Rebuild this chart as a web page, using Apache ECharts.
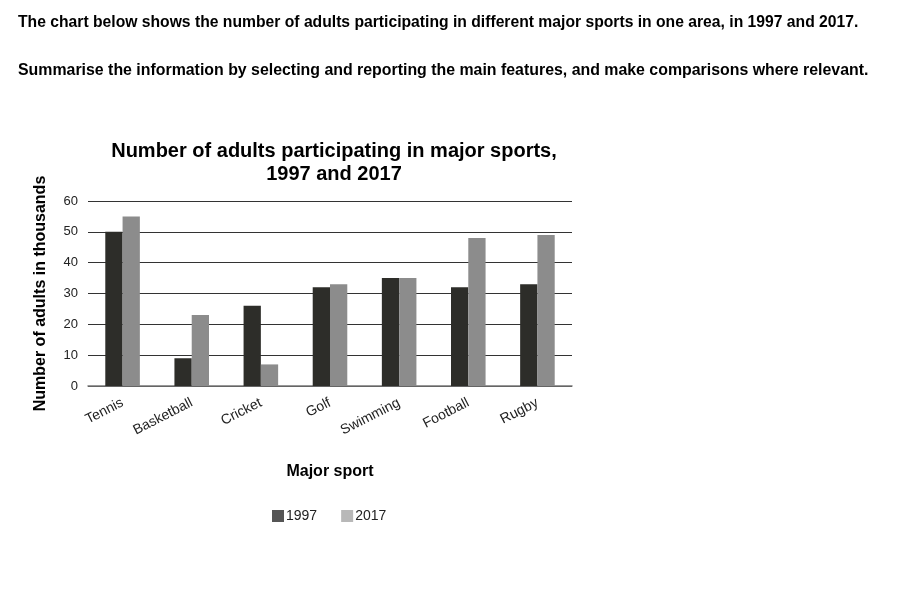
<!DOCTYPE html>
<html>
<head>
<meta charset="utf-8">
<script src="https://cdn.jsdelivr.net/npm/echarts@6/dist/echarts.min.js"></script>
<style>
  html, body { margin: 0; padding: 0; background: #fff; }
  #chart { width: 916px; height: 602px; }
</style>
</head>
<body>
<div id="chart"></div>
<script>
'use strict';

var sports = ['Tennis', 'Basketball', 'Cricket', 'Golf', 'Swimming', 'Football', 'Rugby'];
var values1997 = [50, 9, 26, 32, 35, 32, 33];
var values2017 = [55, 23, 7, 33, 35, 48, 49];
var yTicks = [0, 10, 20, 30, 40, 50, 60];

var font = 'Arial, "Liberation Sans", sans-serif';

var chart = echarts.init(document.getElementById('chart'));

var option = {
  backgroundColor: '#fff',
  animation: false,
  title: [{
    text: 'The chart below shows the number of adults participating in different major sports in one area, in 1997 and 2017.',
    left: 13, top: 10,
    textStyle: { fontFamily: font, fontSize: 15.7, fontWeight: 'bold', color: '#000' }
  }, {
    text: 'Summarise the information by selecting and reporting the main features, and make comparisons where relevant.',
    left: 13, top: 58,
    textStyle: { fontFamily: font, fontSize: 15.9, fontWeight: 'bold', color: '#000' }
  }, {
    text: 'Number of adults participating in major sports,\n1997 and 2017',
    left: 329, top: 135, textAlign: 'center',
    textStyle: { fontFamily: font, fontSize: 20, fontWeight: 'bold', color: '#000', lineHeight: 23 }
  }],
  legend: {
    top: 504, left: 267,
    itemWidth: 12, itemHeight: 12, itemGap: 24,
    icon: 'rect',
    textStyle: { fontFamily: font, fontSize: 14, color: '#222', padding: [0, 0, 0, -3] },
    data: [
      { name: '1997', itemStyle: { color: '#555555' } },
      { name: '2017', itemStyle: { color: '#b8b8b8' } }
    ]
  },
  grid: { left: 88, right: 344, top: 201, bottom: 216 },
  xAxis: {
    type: 'category',
    data: sports,
    name: 'Major sport',
    nameLocation: 'middle',
    nameGap: 78,
    nameTextStyle: { fontFamily: font, fontSize: 16, fontWeight: 'bold', color: '#000' },
    axisLine: { lineStyle: { color: '#777', width: 1.5 } },
    axisTick: { show: false },
    axisLabel: {
      rotate: 27, interval: 0, margin: 16,
      fontFamily: font, fontSize: 14, color: '#222'
    }
  },
  yAxis: {
    type: 'value',
    min: yTicks[0], max: yTicks[yTicks.length - 1], interval: 10,
    name: 'Number of adults in thousands',
    nameLocation: 'middle',
    nameGap: 39,
    nameTextStyle: { fontFamily: font, fontSize: 16, fontWeight: 'bold', color: '#000' },
    axisLine: { show: false },
    axisTick: { show: false },
    axisLabel: { fontFamily: font, fontSize: 13, color: '#222', margin: 10 },
    splitLine: { lineStyle: { color: '#333', width: 1.2 } }
  },
  series: [{
    name: '1997',
    type: 'bar',
    data: values1997,
    barGap: '0%',
    barCategoryGap: '50%',
    itemStyle: { color: '#2d2d29' }
  }, {
    name: '2017',
    type: 'bar',
    data: values2017,
    itemStyle: { color: '#8c8c8c' }
  }]
};

chart.setOption(option);
</script>
</body>
</html>
